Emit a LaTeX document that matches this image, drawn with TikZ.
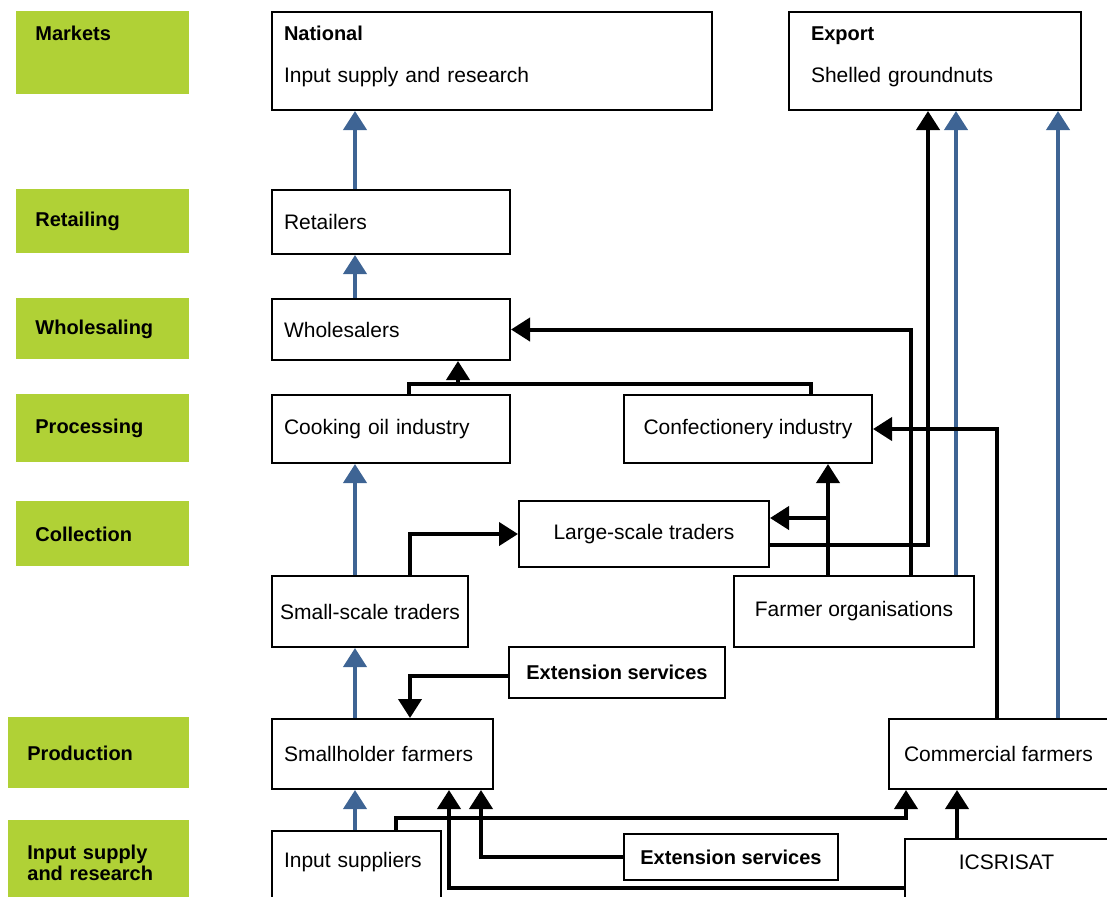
\documentclass[tikz,border=0pt]{standalone}
\usepackage{fontspec}
\setmainfont{Liberation Sans}
\usetikzlibrary{positioning, calc, arrows.meta}

\definecolor{stagegreen}{RGB}{176,209,54}
\definecolor{flowblue}{RGB}{62,100,148}

\newcommand\bftext[1]{{\fontsize{10pt}{12.6pt}\selectfont\bfseries #1}}

\tikzset{
    stage/.style 2 args={fill=stagegreen, anchor=north west, inner xsep=9.5pt, inner ysep=0pt,
        text width={#1*0.5pt-19pt}, minimum height={#2*0.5pt}, align=left,
        font=\fontsize{10pt}{10.5pt}\selectfont\bfseries},
    box/.style 2 args={draw, line width=1pt, anchor=north west, inner xsep=6pt, inner ysep=0pt,
        text width={#1*0.5pt-12pt}, minimum height={#2*0.5pt}, align=left},
    cbox/.style 2 args={draw, line width=1pt, anchor=north west, inner sep=0pt,
        minimum width={#1*0.5pt}, minimum height={#2*0.5pt}},
    blueflow/.style={draw=flowblue, line width=2pt, -{Triangle[width=11.5pt,length=9.5pt]}},
    blackflow/.style={draw=black, line width=2pt, -{Triangle[width=11.5pt,length=9.5pt]}},
    blackline/.style={draw=black, line width=2pt}
}

\begin{document}
\begin{tikzpicture}[x=0.5pt, y=-0.5pt, font=\fontsize{10.5pt}{12.6pt}\selectfont]

    \useasboundingbox (0,0) rectangle (1107,896);

    % Stages on the left
    \node[stage={173}{83}, text depth=20pt] (markets) at (16,11) {Markets};
    \node[stage={173}{64}] (retailing) at (16,189) {Retailing};
    \node[stage={173}{61}] (wholesaling) at (16,298) {Wholesaling};
    \node[stage={173}{68}] (processing) at (16,394) {Processing};
    \node[stage={173}{65}] (collection) at (16,501) {Collection};
    \node[stage={181}{71}] (production) at (8,717) {Production};
    \node[stage={181}{84}] (inputs) at (8,820) {Input supply\\and research};

    % Markets
    \node[box={440}{98}, text depth=27.6pt] (natl) at (271,11)
        {\bftext{National}\\[8.4pt]Input supply and research};
    \node[box={292}{98}, inner xsep=11pt, text width=124pt, text depth=27.6pt] (export) at (788,11)
        {\bftext{Export}\\[8.4pt]Shelled groundnuts};

    % Chain actors
    \node[box={238}{64}] (retail) at (271,189) {Retailers};
    \node[box={238}{61}] (whole) at (271,298) {Wholesalers};
    \node[box={238}{68}] (coil) at (271,394) {Cooking oil industry};
    \node[cbox={248}{68}] (confec) at (623,394) {Confectionery industry};
    \node[cbox={250}{66}] (large) at (518,500) {Large-scale traders};
    \node[cbox={196}{71}] (small) at (271,575) {Small-scale traders};
    \node[cbox={240}{71}] (farmorg) at (733,575) {Farmer organisations};
    \node[cbox={216}{51}] (ext1) at (508,646) {\bftext{Extension services}};
    \node[box={221}{70}] (smallh) at (271,718) {Smallholder farmers};
    \node[cbox={219}{70}] (comm) at (888,718) {Commercial farmers};
    \node[box={169}{80}, text depth=11.5pt] (inpsup) at (271,830) {Input suppliers};
    \node[cbox={214}{46}] (ext2) at (623,833) {\bftext{Extension services}};
    \node[cbox={203}{80}, text depth=17pt] (icrisat) at (904,838) {ICSRISAT};

    % Blue flows
    \coordinate (colA) at (355,0);
    \coordinate (colB) at (956,0);
    \coordinate (colC) at (1058,0);
    \draw[blueflow] (retail.north -| colA) -- (natl.south -| colA);
    \draw[blueflow] (whole.north -| colA) -- (retail.south -| colA);
    \draw[blueflow] (small.north -| colA) -- (coil.south -| colA);
    \draw[blueflow] (smallh.north -| colA) -- (small.south -| colA);
    \draw[blueflow] (inpsup.north -| colA) -- (smallh.south -| colA);
    \draw[blueflow] (farmorg.north -| colB) -- (export.south -| colB);
    \draw[blueflow] (comm.north -| colC) -- (export.south -| colC);

    % Processing up to wholesalers
    \coordinate (join) at (458,384);
    \draw[blackline] (coil.north -| 409,0) |- (join) -| (confec.north -| 811,0);
    \draw[blackflow] (join) -- (whole.south -| join);

    % Farmer organisations
    \draw[blackflow] (farmorg.north -| 911,0) |- (whole.east);
    \draw[blackflow] (farmorg.north -| 828,0) -- (confec.south -| 828,0);
    \coordinate (split) at (828,518);
    \draw[blackflow] (split) -- (large.east |- split);

    % Large-scale traders to export
    \draw[blackflow] (large.east |- 0,545) -| (export.south -| 928,0);

    % Commercial farmers to confectionery
    \draw[blackflow] (comm.north -| 997,0) |- (confec.east);

    % Small-scale to large-scale traders
    \draw[blackflow] (small.north -| 410,0) |- (large.west);

    % Extension services to smallholders
    \draw[blackflow] (ext1.west |- 0,676) -| (smallh.north -| 410,0);
    \draw[blackflow] (ext2.west) -| (smallh.south -| 481,0);

    % Input supply and research
    \draw[blackflow] (inpsup.north -| 396,0) -- ++(0,-12) -| (comm.south -| 906,0);
    \draw[blackflow] (icrisat.north -| 957,0) -- (comm.south -| 957,0);
    \draw[blackflow] (icrisat.west |- 0,888) -| (smallh.south -| 449,0);

\end{tikzpicture}
\end{document}
